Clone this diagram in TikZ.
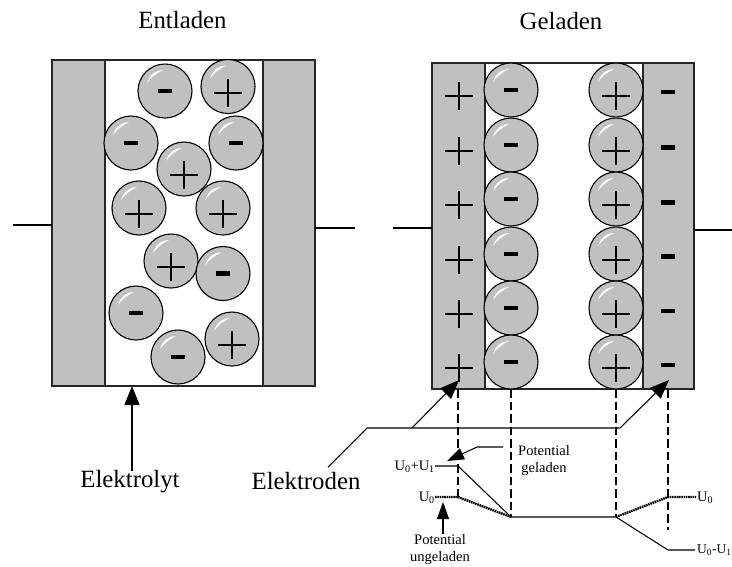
\documentclass[tikz,border=0pt]{standalone}
\usepackage{fontspec}
\setmainfont{Liberation Serif}
\usetikzlibrary{arrows.meta}
\definecolor{elgray}{HTML}{C0C0C0}
\tikzset{
  panel/.style={draw=black!85,line width=1.3pt,fill=white},
  electrode/.style={draw=black!85,line width=1.3pt,fill=elgray},
  ion/.style={circle,draw=black,line width=1.1pt,fill=elgray,minimum size=54pt,inner sep=0pt},
  shine/.style={fill=white,draw=none},
  signline/.style={line width=2pt,draw=black},
  minusbar/.style={fill=black,draw=none},
  wire/.style={line width=1.05pt,draw=black},
  pointer/.style={line width=1.05pt,draw=black,-{Triangle[length=19pt,width=15pt]}},
  smallpointer/.style={line width=1.05pt,draw=black,-{Triangle[length=17pt,width=12pt]}},
  guide/.style={line width=2.5pt,draw=black,dash pattern=on 8.5pt off 4pt},
  charged/.style={line width=1.05pt,draw=black},
  uncharged/.style={line width=2.4pt,draw=black,dash pattern=on 1.6pt off 0.7pt},
  big/.style={font=\fontsize{24.8}{27}\selectfont,inner sep=0pt},
  small/.style={font=\fontsize{14.5}{17.5}\selectfont,inner sep=0pt,align=center},
}
\newcommand{\plussign}[2]{\draw[signline] (#1-14,#2) -- (#1+14,#2) (#1,#2-14) -- (#1,#2+14);}
\newcommand{\minussign}[2]{\fill[minusbar] (#1-7,#2-2.2) rectangle (#1+7,#2+2.2);}
\newcommand{\ionbody}[3]{%
  \node[ion] (#1) at (#2,#3) {};
  \fill[shine,shift={(#2,#3)}] (-18,-8) .. controls (-15,-17) and (-9,-21) .. (-2,-21) .. controls (-8,-18) and (-14,-14) .. (-18,-8) -- cycle;}
\newcommand{\ionminus}[3]{\ionbody{#1}{#2}{#3}\minussign{#2}{#3}}
\newcommand{\ionplus}[3]{\ionbody{#1}{#2}{#3}\pgfmathsetmacro{\py}{#3+6}\plussign{#2}{\py}}
\begin{document}
\begin{tikzpicture}[x=1pt,y=-1pt]
\useasboundingbox (0,0) rectangle (732,566);
% titles
\node[big] (tEnt) at (182.5,20) {Entladen};
\node[big] (tGel) at (561,21) {Geladen};
% left cell
\draw[panel] (105,60) rectangle (263,386);
\draw[electrode] (52,60) rectangle (105,386);
\draw[electrode] (263,60) rectangle (315,386);
\coordinate (lw1) at (13,225); \coordinate (lw1e) at (52,225);
\coordinate (lw2) at (315,228); \coordinate (lw2e) at (355,228);
\draw[wire] (lw1) -- (lw1e);
\draw[wire] (lw2) -- (lw2e);
\ionminus{a1}{165}{91}
\ionplus{a2}{228}{86.5}
\ionminus{a3}{131}{143}
\ionminus{a4}{236}{143}
\ionplus{a5}{184}{169}
\ionplus{a6}{139}{208}
\ionplus{a7}{223}{208}
\ionplus{a8}{171}{261}
\ionminus{a9}{223}{273.5}
\ionminus{a10}{136}{313}
\ionminus{a11}{178}{357}
\ionplus{a12}{232}{339}
% right cell
\draw[panel] (485,63) rectangle (643,389);
\draw[electrode] (432,63) rectangle (485,389);
\draw[electrode] (643,63) rectangle (694,389);
\coordinate (rw1) at (393,228); \coordinate (rw1e) at (432,228);
\coordinate (rw2) at (694,230); \coordinate (rw2e) at (732,230);
\draw[wire] (rw1) -- (rw1e);
\draw[wire] (rw2) -- (rw2e);
\foreach \n/\y/\py/\my in {1/90/95/92,2/145/149.5/147.5,3/199/204/202.5,4/254/258.5/256.5,5/308/313/311,6/362/367/365}{
  \ionminus{b\n}{511}{\y}
  \ionplus{c\n}{616}{\y}
  \plussign{458.5}{\py}
  \minussign{668}{\my}
}
% guides
\coordinate (g1t) at (458,389); \coordinate (g1b) at (458,497);
\coordinate (g2t) at (511,389); \coordinate (g2b) at (511,517);
\coordinate (g3t) at (616,389); \coordinate (g3b) at (616,517);
\coordinate (g4t) at (668,389); \coordinate (g4b) at (668,530);
\draw[guide] (g1t) -- (g1b);
\draw[guide] (g2t) -- (g2b);
\draw[guide] (g3t) -- (g3b);
\draw[guide] (g4t) -- (g4b);
% Elektrolyt
\node[big] (ely) at (130,482) {Elektrolyt};
\coordinate (elyTip) at (132,386);
\draw[pointer] (ely.north -| elyTip) -- (elyTip);
% Elektroden
\node[big] (eld) at (306,481) {Elektroden};
\coordinate (k0) at (328,467);
\coordinate (k1) at (367,428);
\coordinate (k2) at (412,428);
\coordinate (k3) at (620,428);
\coordinate (tipL) at (459,380);
\coordinate (tipR) at (669,380);
\draw[wire] (k0) -- (k1) -- (k3);
\draw[pointer] (k2) -- (tipL);
\draw[pointer] (k3) -- (tipR);
% potential curves
\coordinate (pL0) at (435,497); \coordinate (pL1) at (458,497);
\coordinate (qL0) at (435,466); \coordinate (qL1) at (458,466);
\coordinate (m1) at (511,517); \coordinate (m2) at (616,517);
\coordinate (pR1) at (668,497); \coordinate (pR0) at (696,497);
\coordinate (qR1) at (668,550); \coordinate (qR0) at (695,550);
\draw[charged] (qL0) -- (qL1) -- (m1) -- (m2) -- (qR1) -- (qR0);
\draw[uncharged] (pL0) -- (pL1) -- (m1);
\draw[uncharged] (m2) -- (pR1) -- (pR0);
% labels
\node[small,anchor=east] (u1) at (435,467) {U\textsubscript{0}+U\textsubscript{1}};
\node[small,anchor=east] (u2) at (435,498) {U\textsubscript{0}};
\node[small,anchor=west] (u3) at (697,498) {U\textsubscript{0}};
\node[small,anchor=west,font=\fontsize{13.5}{18}\selectfont] (u4) at (697,550) {U\textsubscript{0}-U\textsubscript{1}};
\node[small] (pg) at (544,460.5) {Potential\\[0pt]geladen};
\node[small] (pu) at (440,549.5) {Potential\\[0pt]ungeladen};
\coordinate (pgA) at (503,447); \coordinate (pgB) at (477,447); \coordinate (pgT) at (447,461);
\draw[smallpointer] (pgA) -- (pgB) -- (pgT);
\coordinate (puS) at (443,534); \coordinate (puT) at (443,502);
\draw[smallpointer] (puS) -- (puT);
\end{tikzpicture}
\end{document}
